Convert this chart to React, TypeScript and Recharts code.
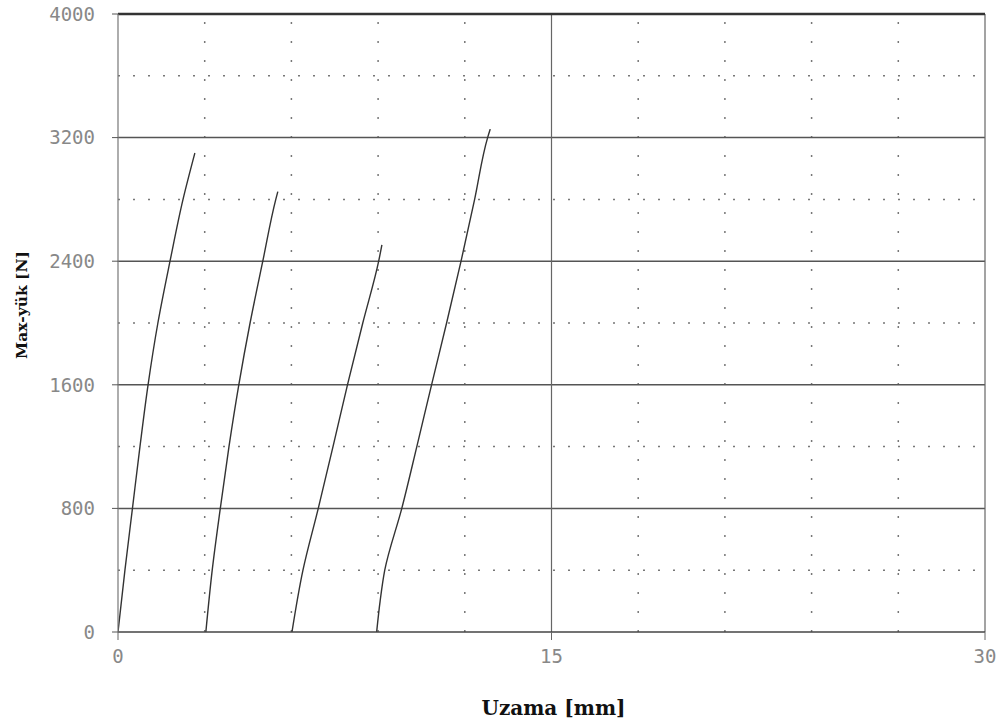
import { LineChart, Line, XAxis, YAxis, ReferenceLine, Label } from 'recharts';

// Uzama [mm] vs Max-yük [N], four specimens
const curve1 = [
  { x: 0, y: 0 }, { x: 0.24, y: 400 }, { x: 0.5, y: 800 }, { x: 0.76, y: 1200 },
  { x: 1.04, y: 1600 }, { x: 1.38, y: 2000 }, { x: 1.8, y: 2400 }, { x: 2.25, y: 2800 },
  { x: 2.66, y: 3100 },
];
const curve2 = [
  { x: 3.04, y: 0 }, { x: 3.26, y: 400 }, { x: 3.54, y: 800 }, { x: 3.84, y: 1200 },
  { x: 4.18, y: 1600 }, { x: 4.57, y: 2000 }, { x: 5.01, y: 2400 }, { x: 5.46, y: 2800 },
  { x: 5.53, y: 2850 },
];
const curve3 = [
  { x: 6.02, y: 0 }, { x: 6.4, y: 400 }, { x: 6.93, y: 800 }, { x: 7.44, y: 1200 },
  { x: 7.94, y: 1600 }, { x: 8.47, y: 2000 }, { x: 9.02, y: 2400 }, { x: 9.13, y: 2505 },
];
const curve4 = [
  { x: 8.95, y: 0 }, { x: 9.07, y: 200 }, { x: 9.23, y: 400 }, { x: 9.82, y: 800 },
  { x: 10.34, y: 1200 }, { x: 10.85, y: 1600 }, { x: 11.37, y: 2000 }, { x: 11.87, y: 2400 },
  { x: 12.34, y: 2800 }, { x: 12.79, y: 3200 }, { x: 12.88, y: 3255 },
];

const xTicks = [0, 15, 30];
const yTicks = [0, 800, 1600, 2400, 3200, 4000];
const xMajor = [15, 30];
const xMinor = [3, 6, 9, 12, 18, 21, 24, 27];
const yMajor = [800, 1600, 2400, 3200];
const yMinor = [400, 1200, 2000, 2800, 3600];

const curves = [curve1, curve2, curve3, curve4];

const tickStyle = { fontFamily: 'DejaVu Sans Mono', fontSize: 19, fill: '#888' };
const labelFont = 'DejaVu Serif';

export default function App() {
  return (
    <div
      style={{
        position: 'fixed',
        left: 0,
        top: 0,
        width: 1000,
        height: 724,
        overflow: 'hidden',
        background: '#fff',
      }}
    >
      <LineChart
        width={1000}
        height={724}
        margin={{ top: 14, right: 15, bottom: 32, left: 28 }}
        style={{ overflow: 'visible' }}
      >
        {yMinor.map((v) => (
          <ReferenceLine key={'ym' + v} y={v} stroke="#777" strokeWidth={1.5} strokeDasharray="2 13" />
        ))}
        {xMinor.map((v) => (
          <ReferenceLine key={'xm' + v} x={v} stroke="#777" strokeWidth={1.5} strokeDasharray="2 17" />
        ))}
        {yMajor.map((v) => (
          <ReferenceLine key={'yM' + v} y={v} stroke="#555" strokeWidth={1.5} />
        ))}
        {xMajor.map((v) => (
          <ReferenceLine key={'xM' + v} x={v} stroke="#666" strokeWidth={1.2} />
        ))}
        <ReferenceLine y={4000} stroke="#333" strokeWidth={2.5} />
        <XAxis
          type="number"
          dataKey="x"
          domain={[0, 30]}
          ticks={xTicks}
          allowDataOverflow
          tick={tickStyle}
          tickSize={8}
          tickMargin={10}
          tickLine={{ stroke: '#666' }}
          axisLine={{ stroke: '#444', strokeWidth: 1.5 }}
          height={60}
        >
          <Label
            content={({ viewBox }: any) => (
              <text
                x={viewBox.x + viewBox.width / 2 + 2}
                y={viewBox.y + 83}
                textAnchor="middle"
                fontFamily={labelFont}
                fontWeight="bold"
                fontSize={20}
                fill="#111"
              >
                Uzama [mm]
              </text>
            )}
          />
        </XAxis>
        <YAxis
          type="number"
          dataKey="y"
          domain={[0, 4000]}
          ticks={yTicks}
          allowDataOverflow
          tick={tickStyle}
          tickSize={6}
          tickMargin={17}
          tickLine={{ stroke: '#555' }}
          axisLine={{ stroke: '#777', strokeWidth: 1.2 }}
          width={90}
        >
          <Label
            content={() => (
              <text
                x={21}
                y={305}
                transform="rotate(-90 21 305)"
                textAnchor="middle"
                dominantBaseline="central"
                fontFamily={labelFont}
                fontWeight="bold"
                fontSize={15.5}
                fill="#111"
              >
                Max-yük [N]
              </text>
            )}
          />
        </YAxis>
        {curves.map((c, i) => (
          <Line
            key={i}
            data={c}
            dataKey="y"
            type="monotoneY"
            stroke="#333"
            strokeWidth={1.4}
            dot={false}
            activeDot={false}
            isAnimationActive={false}
          />
        ))}
      </LineChart>
    </div>
  );
}
